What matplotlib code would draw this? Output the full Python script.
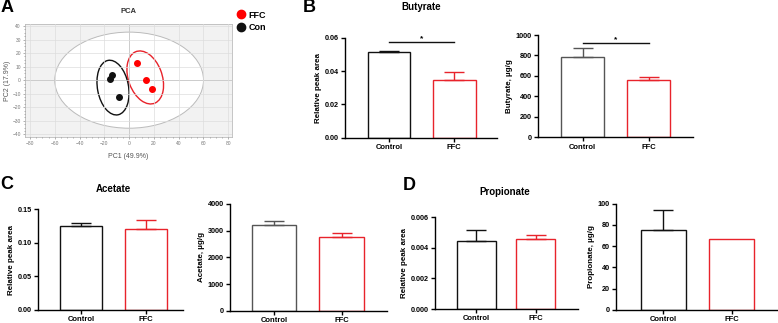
import numpy as np
import matplotlib
matplotlib.use('Agg')
import matplotlib.pyplot as plt
from matplotlib.patches import Ellipse
from matplotlib.lines import Line2D

plt.rcParams['font.family'] = ['Liberation Sans', 'DejaVu Sans']

# PCA scores
ffc_pc1 = [6.6, 13.8, 18.1]
ffc_pc2 = [12.4, 0.1, -6.8]
con_pc1 = [-13.5, -15.1, -8.2]
con_pc2 = [3.8, 0.6, -12.2]

# bar data (mean, upper error)
groups = ['Control', 'FFC']
but_rel = [0.0512, 0.0344]
but_rel_err = [0.0010, 0.0052]
but_conc = [788, 557]
but_conc_err = [88, 35]
ace_rel = [0.1256, 0.1207]
ace_rel_err = [0.0044, 0.0133]
ace_conc = [3202, 2751]
ace_conc_err = [172, 173]
pro_rel = [0.00445, 0.00456]
pro_rel_err = [0.00072, 0.00030]
pro_conc = [75.5, 66.4]
pro_conc_err = [18.8, 0]

W, H = 778, 323
RED = '#e8232b'
fig = plt.figure(figsize=(W / 100, H / 100), dpi=100)


def px_axes(l, t, r, b):
    return fig.add_axes([l / W, 1 - b / H, (r - l) / W, (b - t) / H])


# ---- A: PCA ----
ax = px_axes(25, 24, 232, 137)
ax.set_facecolor('#f2f2f2')
ax.set_xlim(-84, 83)
ax.set_ylim(-42, 41.5)
ax.add_patch(Ellipse((0, 0), 120, 71, facecolor='white', edgecolor='#bbbbbb', lw=0.7, zorder=0.5))
ax.set_xticks(np.arange(-80, 81, 20))
ax.set_yticks(np.arange(-40, 41, 10))
ax.set_xticks(np.arange(-80, 81, 5), minor=True)
ax.set_yticks(np.arange(-40, 41, 2.5), minor=True)
ax.grid(True, which='major', color='#dddddd', lw=0.5, zorder=1)
ax.set_axisbelow(False)
ax.axhline(0, color='#999999', lw=0.6, zorder=1.5)
ax.axvline(0, color='#999999', lw=0.6, zorder=1.5)
ax.add_patch(Ellipse((13, 2), 27, 41, angle=23, facecolor='none', edgecolor=RED, lw=1.0, zorder=2))
ax.add_patch(Ellipse((-13, -5.5), 25, 41, angle=12, facecolor='none', edgecolor='#111111', lw=1.0, zorder=2))
ax.scatter(ffc_pc1, ffc_pc2, s=16, color='#ff0000', zorder=3)
ax.scatter(con_pc1, con_pc2, s=16, color='#111111', zorder=3)
ax.tick_params(which='both', labelsize=3.5, colors='#777777', length=1.5, width=0.4, pad=1.5)
ax.tick_params(which='minor', length=0.8)
for s in ax.spines.values():
    s.set_color('#bbbbbb')
    s.set_linewidth(0.6)
ax.set_xlabel('PC1 (49.9%)', fontsize=5, color='#555555', labelpad=5)
ax.set_ylabel('PC2 (17.9%)', fontsize=5, color='#555555', labelpad=1)
ax.set_title('PCA', fontsize=5.5, fontweight='bold', color='#333333', pad=8)
handles = [Line2D([], [], marker='o', ls='', color='#ff0000', markersize=6, label='FFC'),
           Line2D([], [], marker='o', ls='', color='#111111', markersize=6, label='Con')]
fig.legend(handles=handles, loc='upper left', bbox_to_anchor=(232 / W, 1 - 7 / H), frameon=False,
           prop={'size': 6.5, 'weight': 'bold'}, handletextpad=0.2, labelspacing=0.35,
           borderaxespad=0, handlelength=1.2)


def bar_panel(box, vals, errs, ylim, yticks, yticklabels, ylabel, xlim, ctrl_color, sig=None):
    ax = px_axes(*box)
    x = np.arange(len(groups))
    colors = [ctrl_color, RED]
    ax.bar(x, vals, width=0.66, facecolor='white', edgecolor=colors, linewidth=1.0, zorder=2)
    for i in range(len(groups)):
        if errs[i] > 0:
            ax.errorbar(x[i], vals[i], yerr=[[0], [errs[i]]], color=colors[i], capsize=7.5,
                        elinewidth=1.0, capthick=1.0, zorder=2)
    ax.set_xlim(xlim)
    ax.set_ylim(ylim)
    ax.set_yticks(yticks)
    ax.set_yticklabels(yticklabels)
    ax.set_xticks(x)
    ax.set_xticklabels(groups)
    for s in ['top', 'right']:
        ax.spines[s].set_visible(False)
    for s in ['left', 'bottom']:
        ax.spines[s].set_linewidth(1.0)
    ax.tick_params(length=3, width=1.0, pad=1.5)
    ax.tick_params(axis='y', labelsize=5.2)
    ax.tick_params(axis='x', labelsize=5.5)
    for lab in ax.get_xticklabels() + ax.get_yticklabels():
        lab.set_fontweight('bold')
    ax.set_ylabel(ylabel, fontsize=5.8, fontweight='bold', labelpad=2)
    if sig is not None:
        ax.plot([0, 1], [sig, sig], color='#111111', lw=1.0, clip_on=False)
        ax.text(0.5, sig, '*', ha='center', va='bottom', fontsize=6, fontweight='bold')
    return ax


# ---- B: Butyrate ----
bar_panel((345, 37.7, 497, 137.7), but_rel, but_rel_err, (0, 0.06), [0, 0.02, 0.04, 0.06],
          ['0.00', '0.02', '0.04', '0.06'], 'Relative peak area', (-0.677, 1.66), '#111111', sig=0.0572)
bar_panel((538.3, 35, 693, 137.3), but_conc, but_conc_err, (0, 1000), [0, 200, 400, 600, 800, 1000],
          ['0', '200', '400', '600', '800', '1000'], 'Butyrate, µg/g', (-0.675, 1.676), '#555555', sig=919)

# ---- C: Acetate ----
bar_panel((38.3, 209.3, 182.7, 310), ace_rel, ace_rel_err, (0, 0.15), [0, 0.05, 0.10, 0.15],
          ['0.00', '0.05', '0.10', '0.15'], 'Relative peak area', (-0.657, 1.565), '#111111')
bar_panel((230, 204, 386.7, 310.7), ace_conc, ace_conc_err, (0, 4000), [0, 1000, 2000, 3000, 4000],
          ['0', '1000', '2000', '3000', '4000'], 'Acetate, µg/g', (-0.649, 1.662), '#555555')

# ---- D: Propionate ----
bar_panel((435, 217.3, 578, 309), pro_rel, pro_rel_err, (0, 0.006), [0, 0.002, 0.004, 0.006],
          ['0.000', '0.002', '0.004', '0.006'], 'Relative peak area', (-0.691, 1.71), '#111111')
bar_panel((616, 203.7, 776.7, 309.7), pro_conc, pro_conc_err, (0, 100), [0, 20, 40, 60, 80, 100],
          ['0', '20', '40', '60', '80', '100'], 'Propionate, µg/g', (-0.69, 1.66), '#111111')

# titles and panel letters
fig.text(421 / W, 1 - 7 / H, 'Butyrate', ha='center', va='center', fontsize=7, fontweight='bold')
fig.text(113 / W, 1 - 189 / H, 'Acetate', ha='center', va='center', fontsize=7, fontweight='bold')
fig.text(505 / W, 1 - 191.7 / H, 'Propionate', ha='center', va='center', fontsize=7, fontweight='bold')
for letter, lx, ly in [('A', 1, 8), ('B', 303, 7), ('C', 0, 185), ('D', 403, 186)]:
    fig.text(lx / W, 1 - ly / H, letter, ha='left', va='center', fontsize=13, fontweight='bold')

fig.savefig('out.png', dpi=100)
